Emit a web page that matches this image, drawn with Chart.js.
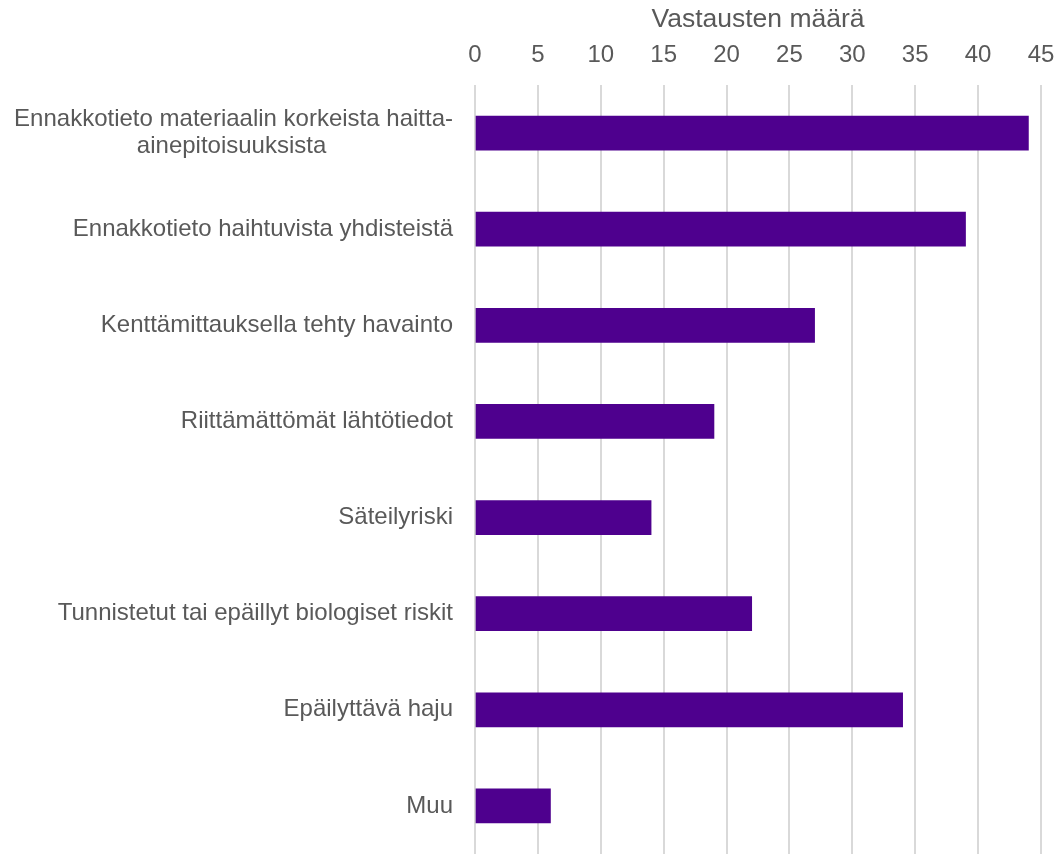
<!DOCTYPE html>
<html>
<head>
<meta charset="utf-8">
<script src="https://cdn.jsdelivr.net/npm/chart.js@4"></script>
<style>
  html, body { margin: 0; padding: 0; background: #fff; }
  #wrap { width: 1058px; height: 854px; position: relative; }
</style>
</head>
<body>
<div id="wrap"><canvas id="kuvio"></canvas></div>
<script>
const categories = [
    ['Ennakkotieto materiaalin korkeista haitta-', 'ainepitoisuuksista'],
    'Ennakkotieto haihtuvista yhdisteistä',
    'Kenttämittauksella tehty havainto',
    'Riittämättömät lähtötiedot',
    'Säteilyriski',
    'Tunnistetut tai epäillyt biologiset riskit',
    'Epäilyttävä haju',
    'Muu',
];
const responses = [44, 39, 27, 19, 14, 22, 34, 6];
const axisTitle = 'Vastausten määrä';

const textColor = '#595959';
const fontFamily = '"Liberation Sans", Arial, sans-serif';
const labelSize = 24;
const ctx = document.getElementById('kuvio').getContext('2d');

// wrapped label: centre the shorter line under the longer one (right-aligned block)
function centerLines(lines) {
    ctx.save();
    ctx.font = `${labelSize}px ${fontFamily}`;
    const widths = lines.map((l) => ctx.measureText(l).width);
    const max = Math.max(...widths);
    const space = ctx.measureText(' ').width;
    ctx.restore();
    return lines.map((l, i) => l + ' '.repeat(Math.round((max - widths[i]) / 2 / space)));
}

new Chart(ctx, {
    type: 'bar',
    data: {
        labels: categories,
        datasets: [
            {
                label: axisTitle,
                data: responses,
                backgroundColor: '#4e008e',
                barThickness: 34,
            },
        ],
    },
    options: {
        indexAxis: 'y',
        responsive: true,
        maintainAspectRatio: false,
        animation: false,
        layout: { padding: { left: 0, right: 17, top: 0, bottom: 0 } },
        plugins: {
            legend: { display: false },
            tooltip: { enabled: false },
        },
        scales: {
            x: {
                position: 'top',
                min: 0,
                max: 45,
                ticks: {
                    stepSize: 5,
                    color: textColor,
                    padding: 15,
                    font: { family: fontFamily, size: 24 },
                },
                grid: { color: '#d9d9d9', lineWidth: 2, drawTicks: false },
                border: { display: false },
                title: {
                    display: true,
                    text: axisTitle,
                    color: textColor,
                    padding: { top: 4, bottom: 2 },
                    font: { family: fontFamily, size: 26.5 },
                },
                afterFit: (scale) => {
                    scale.height = 85;
                    scale.paddingLeft = 0;
                    scale.paddingRight = 0;
                },
            },
            y: {
                ticks: {
                    color: textColor,
                    padding: 22,
                    font: { family: fontFamily, size: labelSize, lineHeight: 1.13 },
                    callback: function (value) {
                        const label = this.getLabelForValue(value);
                        return Array.isArray(label) ? centerLines(label) : label;
                    },
                },
                grid: { display: false, drawTicks: false },
                border: { display: false },
                afterFit: (scale) => {
                    scale.width = 475;
                    scale.paddingTop = 0;
                    scale.paddingBottom = 0;
                },
            },
        },
    },
});
</script>
</body>
</html>
